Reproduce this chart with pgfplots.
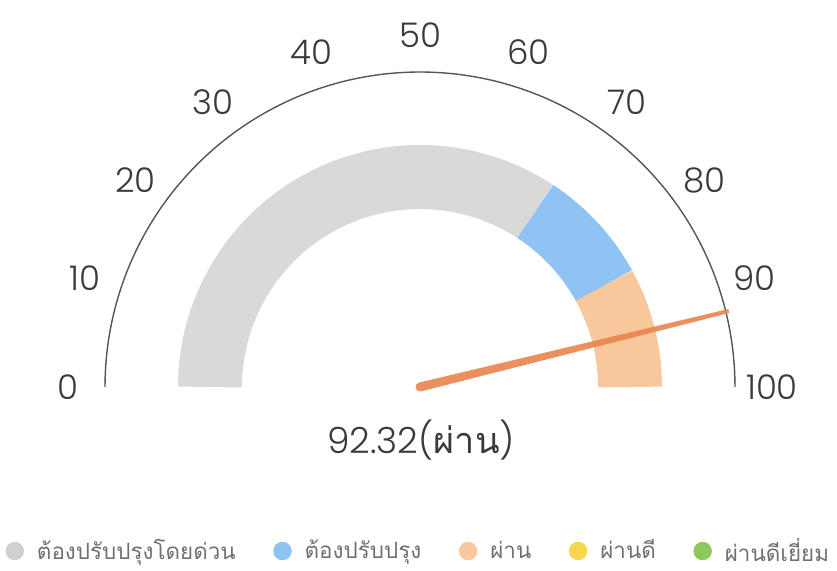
\documentclass[border=0pt]{standalone}
\usepackage{fontspec}
\setmainfont{Poppins}[UprightFont=* Light]
\newfontfamily\thai[Script=Thai]{Loma}
\usepackage{pgfplots}
\pgfplotsset{compat=1.18}
\definecolor{bgray}{HTML}{D9D9D9}
\definecolor{bblue}{HTML}{8EC3F4}
\definecolor{bpeach}{HTML}{F8C79B}
\definecolor{byellow}{HTML}{F5D64E}
\definecolor{bgreen}{HTML}{8CC95C}
\definecolor{needle}{HTML}{E8854F}
\definecolor{arcgray}{HTML}{555555}
\definecolor{lblgray}{HTML}{3A3A3A}
\definecolor{leggray}{HTML}{707070}
\begin{document}
\begin{tikzpicture}
\begin{axis}[
  x=0.5pt, y=0.5pt,
  xmin=-420, xmax=417, ymin=-184, ymax=387,
  hide axis, clip=false,
  legend columns=-1,
  legend style={draw=none, fill=none, at={(0.501,0.035)}, anchor=center,
    font=\fontsize{11.2pt}{13pt}\selectfont\thai, text=leggray,
    /tikz/every even column/.append style={column sep=16.8pt},
    /tikz/every odd column/.append style={column sep=4.5pt},
    inner sep=0pt},
  legend image code/.code={\fill[#1] (0.15cm,0cm) circle (4.4pt);},
]
% invisible frame to fix the picture size
\addplot[forget plot, draw=none] coordinates {(-420,-184) (417,387)};
% gauge bands (value ranges 0-68.5, 68.5-84, 84-100)
\addplot[forget plot, bgray, line width=32pt, line cap=butt, domain=0:68.5, samples=80, variable=\v]
  ({210*cos(180-1.8*\v)},{210*sin(180-1.8*\v)});
\addplot[forget plot, bblue, line width=32pt, line cap=butt, domain=68.5:84, samples=25, variable=\v]
  ({210*cos(180-1.8*\v)},{210*sin(180-1.8*\v)});
\addplot[forget plot, bpeach, line width=32pt, line cap=butt, domain=84:100, samples=25, variable=\v]
  ({210*cos(180-1.8*\v)},{210*sin(180-1.8*\v)});
% outer scale arc
\addplot[forget plot, arcgray, line width=0.7pt, domain=0:100, samples=120, variable=\v]
  ({315*cos(180-1.8*\v)},{315*sin(180-1.8*\v)});
% needle (value 92.32)
\addplot[forget plot, fill=needle, draw=none, fill opacity=0.92] coordinates {
 (1.075,-4.370) (309.27,74.04) (308.31,77.92) (-1.075,4.370)
 (-3.851,2.329) (-4.370,-1.075) (-2.329,-3.851)} -- cycle;
% tick labels
\pgfplotsinvokeforeach{0,10,...,100}{
  \node[font=\fontsize{17pt}{19pt}\selectfont, text=lblgray, inner sep=0pt]
    at (axis cs:{352*cos(180-1.8*#1)},{352*sin(180-1.8*#1)}) {#1};
}
\node[font=\fontsize{18pt}{20pt}\selectfont, text=lblgray, inner sep=0pt]
  at (axis cs:1,-53) {92.32({\thai ผ่าน})};
% legend
\addlegendimage{bgray!90!gray}
\addlegendentry{ต้องปรับปรุงโดยด่วน}
\addlegendimage{bblue}
\addlegendentry{ต้องปรับปรุง}
\addlegendimage{bpeach}
\addlegendentry{ผ่าน}
\addlegendimage{byellow}
\addlegendentry{ผ่านดี}
\addlegendimage{bgreen}
\addlegendentry{ผ่านดีเยี่ยม}
\end{axis}
\end{tikzpicture}
\end{document}
